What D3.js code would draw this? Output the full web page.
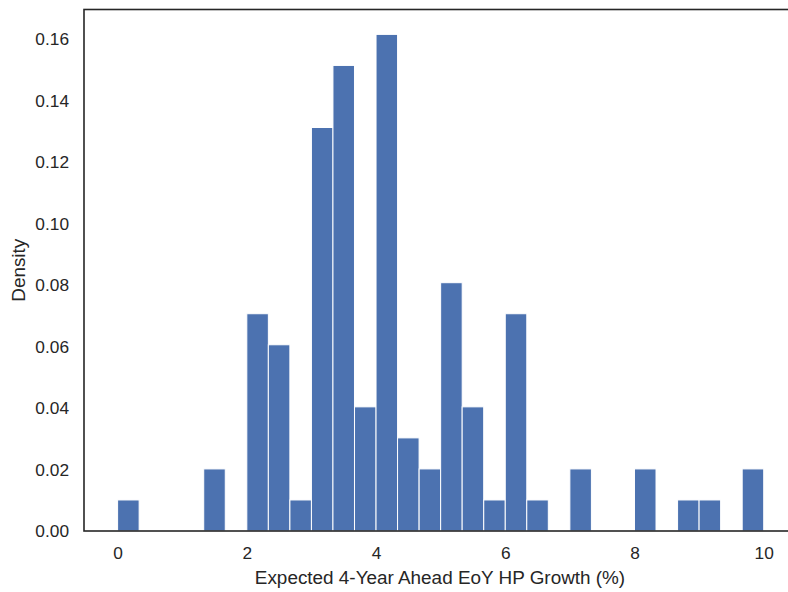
<!DOCTYPE html>
<html>
<head>
<meta charset="utf-8">
<script src="https://cdn.jsdelivr.net/npm/d3@7"></script>
<style>
  body { margin: 0; background: #fff; }
  svg { display: block; font-family: "Liberation Sans", Arial, sans-serif; }
</style>
</head>
<body>
<script>
// non-empty histogram bins: left edge of each bin and its density
const binStart = [0, 1.333, 2, 2.333, 2.667, 3, 3.333, 3.667, 4, 4.333, 4.667,
                  5, 5.333, 5.667, 6, 6.333, 7, 8, 8.667, 9, 9.667];
const density  = [0.0101, 0.0202, 0.0707, 0.0606, 0.0101, 0.1313, 0.1515, 0.0404, 0.1616, 0.0303, 0.0202,
                  0.0808, 0.0404, 0.0101, 0.0707, 0.0101, 0.0202, 0.0202, 0.0101, 0.0101, 0.0202];
const binWidth = 1 / 3;
const xTicks = [0, 2, 4, 6, 8, 10];
const yTicks = [0, 0.02, 0.04, 0.06, 0.08, 0.10, 0.12, 0.14, 0.16];

const w = 788, h = 592;
const padLeft = 84, padRight = 796, padTop = 9.5, padBottom = 531;

const x = d3.scaleLinear().domain([-0.52, 10.5]).range([padLeft, padRight]);
const y = d3.scaleLinear().domain([0, 0.1697]).range([padBottom, padTop]);

const svg = d3.select("body").append("svg")
  .attr("width", w)
  .attr("height", h);

const bins = binStart.map((s, i) => ({ x0: s, x1: s + binWidth, v: density[i] }));

svg.append("g")
  .selectAll("rect")
  .data(bins)
  .enter()
  .append("rect")
  .attr("x", d => x(d.x0))
  .attr("y", d => y(d.v))
  .attr("width", d => x(d.x1) - x(d.x0))
  .attr("height", d => y(0) - y(d.v))
  .attr("fill", "#4c72b0")
  .attr("stroke", "#fff")
  .attr("stroke-width", 1);

// axes, no tick marks (seaborn white style)
const xAxis = d3.axisBottom(x).tickValues(xTicks).tickSize(0).tickPadding(16)
  .tickFormat(d3.format("d"));
svg.append("g")
  .attr("transform", "translate(0," + padBottom + ")")
  .call(xAxis)
  .call(g => g.select(".domain").remove())
  .selectAll("text")
  .attr("font-size", 17.3)
  .attr("font-family", "Liberation Sans, Arial, sans-serif")
  .attr("fill", "#262626");

const yAxis = d3.axisLeft(y).tickValues(yTicks).tickSize(0).tickPadding(15)
  .tickFormat(d3.format(".2f"));
svg.append("g")
  .attr("transform", "translate(" + padLeft + ",0)")
  .call(yAxis)
  .call(g => g.select(".domain").remove())
  .selectAll("text")
  .attr("font-size", 17.3)
  .attr("font-family", "Liberation Sans, Arial, sans-serif")
  .attr("fill", "#262626");

// spines (right one falls outside the picture)
svg.append("rect")
  .attr("x", padLeft)
  .attr("y", padTop)
  .attr("width", padRight - padLeft)
  .attr("height", padBottom - padTop)
  .attr("fill", "none")
  .attr("stroke", "#262626")
  .attr("stroke-width", 1.6);

svg.append("text")
  .attr("x", (padLeft + padRight) / 2)
  .attr("y", 584)
  .attr("text-anchor", "middle")
  .attr("font-size", 18.9)
  .attr("fill", "#262626")
  .text("Expected 4-Year Ahead EoY HP Growth (%)");

svg.append("text")
  .attr("transform", "translate(25," + (padTop + padBottom) / 2 + ") rotate(-90)")
  .attr("text-anchor", "middle")
  .attr("font-size", 18.9)
  .attr("fill", "#262626")
  .text("Density");
</script>
</body>
</html>
